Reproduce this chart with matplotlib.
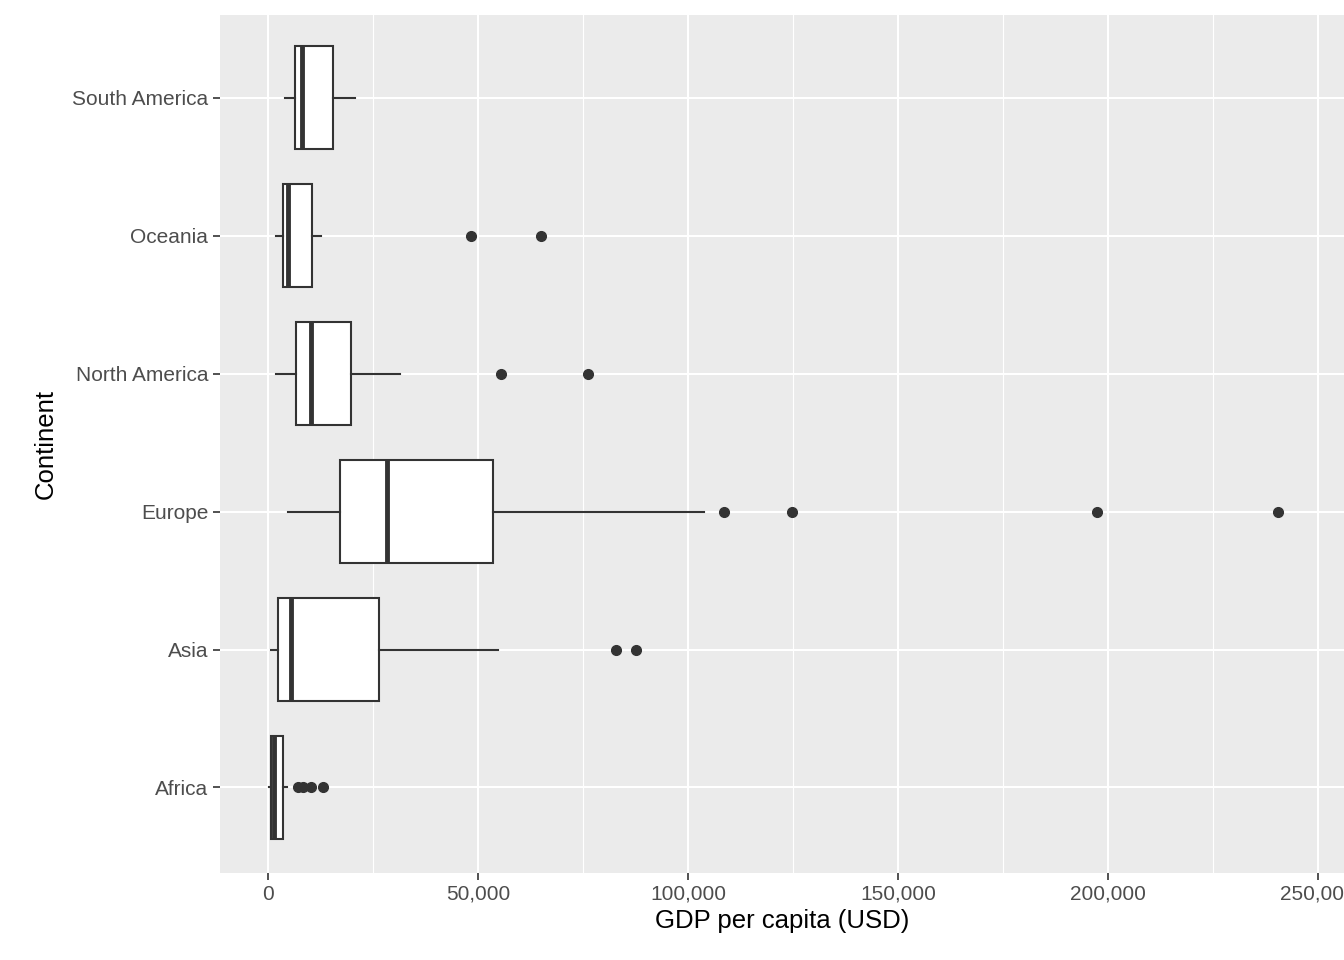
import matplotlib
matplotlib.use("Agg")
import matplotlib.pyplot as plt
from matplotlib.ticker import FuncFormatter, MultipleLocator

plt.rcParams["font.family"] = ["Liberation Sans", "DejaVu Sans"]

continents = ["Africa", "Asia", "Europe", "North America", "Oceania", "South America"]
whislo = [240, 700, 4800, 1900, 1900, 4000]
q1 = [700, 2400, 17100, 6700, 3600, 6400]
med = [1400, 5500, 28300, 10200, 4800, 8100]
q3 = [3600, 26400, 53600, 19800, 10500, 15500]
whishi = [4500, 54800, 103800, 31400, 12600, 20700]
fliers = [
    [7100, 8300, 10200, 13100],
    [82800, 87600],
    [108500, 124700, 197300, 240400],
    [55500, 76200],
    [48300, 65000],
    [],
]

stats = [
    {"label": c, "whislo": lo, "q1": a, "med": m, "q3": b, "whishi": hi, "fliers": f}
    for c, lo, a, m, b, hi, f in zip(continents, whislo, q1, med, q3, whishi, fliers)
]

fig = plt.figure(figsize=(13.44, 9.6), dpi=100)
ax = fig.add_axes([0.1637, 0.0906, 0.8363, 0.8938])
ax.set_facecolor("#EBEBEB")
ax.xaxis.set_major_locator(MultipleLocator(50000))
ax.xaxis.set_minor_locator(MultipleLocator(25000))
ax.grid(which="major", color="white", lw=1.5)
ax.grid(which="minor", axis="x", color="white", lw=0.8)
ax.set_axisbelow(True)

dark = "#333333"
ax.bxp(stats, positions=range(1, 7), vert=False, widths=0.75, patch_artist=True,
       showcaps=False,
       boxprops=dict(facecolor="white", edgecolor=dark, lw=1.5),
       medianprops=dict(color=dark, lw=3.5),
       whiskerprops=dict(color=dark, lw=1.5),
       flierprops=dict(marker="o", markerfacecolor=dark, markeredgecolor=dark, markersize=7))

ax.set_xlim(-11400, 256100)
ax.set_ylim(0.38, 6.6)
ax.set_yticks(range(1, 7))
ax.set_yticklabels(continents)
ax.xaxis.set_major_formatter(FuncFormatter(lambda v, p: f"{int(v):,}"))
for s in ax.spines.values():
    s.set_visible(False)
ax.tick_params(axis="both", labelsize=15, colors="#4D4D4D", length=5, width=1.2, color="#333333")
ax.tick_params(which="minor", length=0)
ax.set_xlabel("GDP per capita (USD)", fontsize=18.5, labelpad=4)
ax.set_ylabel("Continent", fontsize=18.5, labelpad=10)

fig.savefig("out.png", dpi=100)
